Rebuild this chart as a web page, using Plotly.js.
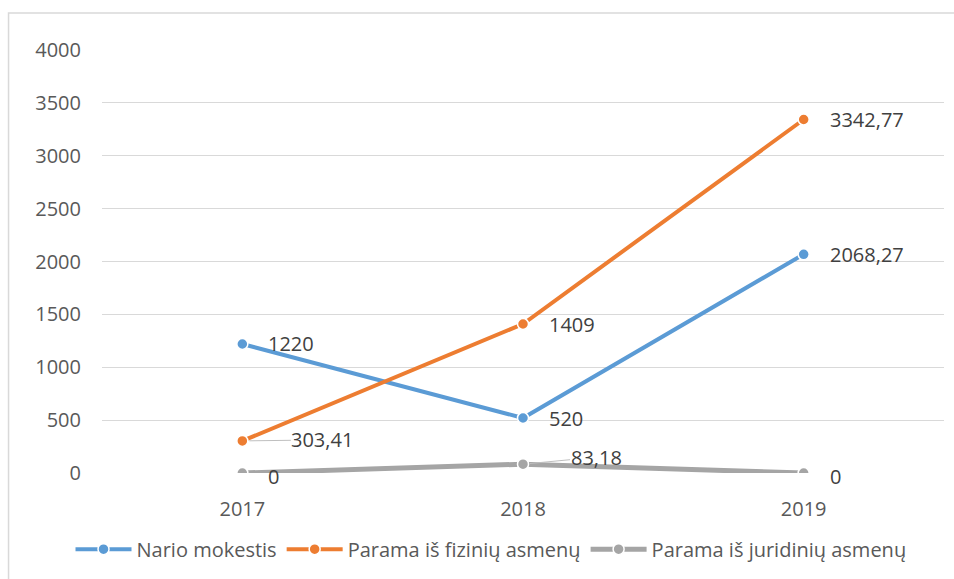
<!DOCTYPE html>
<html>
<head>
<meta charset="utf-8">
<script src="https://cdn.plot.ly/plotly-3.0.1.min.js"></script>
<style>html,body{margin:0;padding:0;background:#fff;}#chart{width:954px;height:579px;}</style>
</head>
<body>
<div id="chart"></div>
<script>
const years = ['2017', '2018', '2019'];
const narioMokestis = [1220, 520, 2068.27];
const paramaFiziniu = [303.41, 1409, 3342.77];
const paramaJuridiniu = [0, 83.18, 0];
const seriesNames = ['Nario mokestis', 'Parama iš fizinių asmenų', 'Parama iš juridinių asmenų'];
const yTicks = [0, 500, 1000, 1500, 2000, 2500, 3000, 3500, 4000];

const colors = ['#5B9BD5', '#ED7D31', '#A5A5A5'];
const widths = [4, 4, 5];
const allSeries = [narioMokestis, paramaFiziniu, paramaJuridiniu];

const fmt = v => String(v).replace('.', ',');

const traces = allSeries.map((vals, i) => ({
  type: 'scatter',
  mode: 'lines+markers',
  x: years,
  y: vals,
  name: seriesNames[i],
  line: {color: colors[i], width: widths[i]},
  marker: {color: colors[i], size: 11, line: {color: '#ffffff', width: 1.5}},
  hoverinfo: 'x+y+name'
}));

// label placement: leader-line labels for a few points
const leader = {'1-0': [80, -1], '2-1': [73, -7]};
const annotations = [];
allSeries.forEach((vals, i) => {
  vals.forEach((v, j) => {
    const key = i + '-' + j;
    const base = {
      x: j, y: v, xref: 'x', yref: 'y',
      text: fmt(v),
      font: {family: 'Open Sans, sans-serif', size: 20, color: '#404040'}
    };
    if (leader[key]) {
      annotations.push(Object.assign(base, {
        showarrow: true, arrowhead: 0, arrowwidth: 1, arrowcolor: '#BFBFBF',
        ax: leader[key][0], ay: leader[key][1], standoff: 7, borderpad: 0
      }));
    } else {
      annotations.push(Object.assign(base, {
        showarrow: false, xanchor: 'left', yanchor: 'middle',
        xshift: 24, yshift: v === 0 ? -3 : 0
      }));
    }
  });
});

const layout = {
  width: 954, height: 579,
  margin: {l: 102, r: 10, t: 50, b: 106},
  paper_bgcolor: '#ffffff', plot_bgcolor: '#ffffff',
  font: {family: 'Open Sans, sans-serif', size: 20, color: '#595959'},
  showlegend: true,
  legend: {
    orientation: 'h', x: 0.462, xanchor: 'center', y: -0.18, yanchor: 'middle',
    font: {family: 'Open Sans, sans-serif', size: 20, color: '#595959'},
    itemwidth: 56
  },
  xaxis: {
    type: 'category', range: [-0.5, 2.5],
    showgrid: false, zeroline: false, showline: false,
    ticks: 'outside', ticklen: 18, tickcolor: 'rgba(0,0,0,0)',
    tickfont: {size: 20, color: '#595959'}, fixedrange: true
  },
  yaxis: {
    range: [0, 4000], tickvals: yTicks, ticktext: yTicks.map(String),
    showgrid: true, gridcolor: '#D9D9D9', gridwidth: 1,
    zeroline: false, showline: false,
    ticks: 'outside', ticklen: 16, tickcolor: 'rgba(0,0,0,0)',
    tickfont: {size: 20, color: '#595959'}, fixedrange: true
  },
  annotations: annotations,
  shapes: [{
    type: 'rect', xref: 'paper', yref: 'paper', layer: 'below',
    x0: -0.111, x1: 1.03, y0: -0.3, y1: 1.0875,
    line: {color: '#D9D9D9', width: 1.5}, fillcolor: 'rgba(0,0,0,0)'
  }]
};

Plotly.newPlot('chart', traces, layout, {displayModeBar: false, staticPlot: true});
</script>
</body>
</html>
